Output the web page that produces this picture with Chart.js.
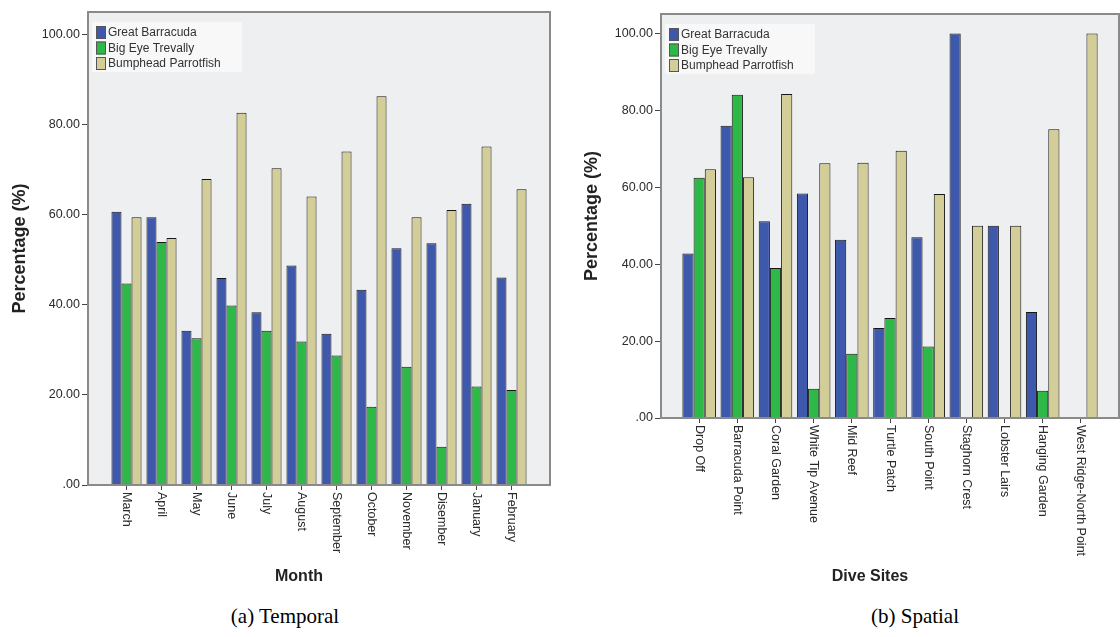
<!DOCTYPE html>
<html lang="en">
  <head>
    <meta charset="UTF-8" />
    <title>Fish sightings by month and dive site</title>
    <script src="https://cdn.jsdelivr.net/npm/chart.js"></script>
    <style>
      * {
        margin: 0;
        padding: 0;
      }
      body {
        background: #fff;
        width: 1120px;
        height: 637px;
        position: relative;
        overflow: hidden;
      }
      canvas {
        position: absolute;
        top: 0;
      }
      #temporal {
        left: 0;
      }
      #spatial {
        left: 560px;
      }
      .caption {
        position: absolute;
        top: 604px;
        width: 220px;
        text-align: center;
        font-family: 'Liberation Serif', 'Times New Roman', serif;
        font-size: 21px;
        color: #000;
      }
    </style>
  </head>
  <body>
    <canvas id="temporal" width="560" height="600"></canvas>
    <canvas id="spatial" width="560" height="600"></canvas>
    <div class="caption" style="left: 175px">(a) Temporal</div>
    <div class="caption" style="left: 805px">(b) Spatial</div>

    <script>
      // ---- data ----
      const species = ['Great Barracuda', 'Big Eye Trevally', 'Bumphead Parrotfish'];
      const speciesColors = ['#3e58ac', '#2eb848', '#d3ce97'];
      const yTicks = [0, 20, 40, 60, 80, 100];

      const months = ['March', 'April', 'May', 'June', 'July', 'August', 'September',
        'October', 'November', 'Disember', 'January', 'February'];
      const monthBarracuda = [60.7, 59.5, 34.3, 46.0, 38.4, 48.8, 33.6, 43.4, 52.6, 53.7, 62.5, 46.1];
      const monthTrevally = [44.8, 54.0, 32.6, 39.9, 34.3, 31.9, 28.8, 17.4, 26.3, 8.5, 21.9, 21.1];
      const monthParrotfish = [59.5, 54.9, 68.0, 82.7, 70.4, 64.1, 74.1, 86.4, 59.5, 61.1, 75.2, 65.7];

      const sites = ['Drop Off', 'Barracuda Point', 'Coral Garden', 'White Tip Avenue', 'Mid Reef',
        'Turtle Patch', 'South Point', 'Staghorn Crest', 'Lobster Lairs', 'Hanging Garden',
        'West Ridge-North Point'];
      const siteBarracuda = [42.8, 76.0, 51.2, 58.4, 46.4, 23.4, 47.0, 100, 50, 27.6, 0];
      const siteTrevally = [62.5, 84.1, 39.0, 7.6, 16.7, 26.0, 18.6, 0, 0, 7.1, 0];
      const siteParrotfish = [64.7, 62.6, 84.3, 66.3, 66.4, 69.5, 58.3, 50, 50, 75.1, 100];

      Chart.defaults.font.family = 'Arial, "Liberation Sans", sans-serif';
      Chart.defaults.color = '#333';

      // SPSS-like frame, rotated labels, axis title and inset legend
      const spssLook = {
        id: 'spssLook',
        beforeDraw(chart) {
          const { ctx, chartArea: a } = chart;
          ctx.save();
          ctx.fillStyle = '#eeeff0';
          ctx.fillRect(a.left, a.top, a.right - a.left, a.bottom - a.top);
          ctx.restore();
        },
        afterDatasetsDraw(chart, args, opts) {
          const { ctx, chartArea: a } = chart;
          const x = chart.scales.x;
          ctx.save();

          // frame
          ctx.strokeStyle = '#8a8a8a';
          ctx.lineWidth = 2;
          ctx.strokeRect(a.left, a.top, a.right - a.left, a.bottom - a.top);

          // category labels, reading top to bottom
          ctx.fillStyle = '#2a2a2a';
          ctx.font = '12.5px Arial, "Liberation Sans", sans-serif';
          ctx.textAlign = 'left';
          ctx.textBaseline = 'middle';
          x.ticks.forEach((t, i) => {
            const px = x.getPixelForTick(i);
            ctx.save();
            ctx.translate(px, a.bottom + 7);
            ctx.rotate(Math.PI / 2);
            ctx.fillText(chart.data.labels[i], 0, 0);
            ctx.restore();
          });

          // x axis title
          ctx.font = 'bold 16px Arial, "Liberation Sans", sans-serif';
          ctx.fillStyle = '#222';
          ctx.textAlign = 'center';
          ctx.fillText(opts.xTitle, (a.left + a.right) / 2 - 20, 577);

          // legend in the top left corner
          ctx.fillStyle = '#f8f8f8';
          ctx.fillRect(a.left + 4, a.top + 10, 150, 50);
          ctx.font = '12px Arial, "Liberation Sans", sans-serif';
          ctx.textAlign = 'left';
          chart.data.datasets.forEach((ds, i) => {
            const cy = a.top + 20 + i * 15.5;
            ctx.fillStyle = ds.backgroundColor;
            ctx.fillRect(a.left + 8, cy - 6, 10, 13);
            ctx.strokeStyle = '#555';
            ctx.lineWidth = 1;
            ctx.strokeRect(a.left + 8.5, cy - 5.5, 9, 12);
            ctx.fillStyle = '#333';
            ctx.fillText(ds.label, a.left + 20, cy + 1);
          });
          ctx.restore();
        }
      };

      function makeChart(id, labels, series, geo) {
        const ctx = document.getElementById(id).getContext('2d');
        return new Chart(ctx, {
          type: 'bar',
          data: {
            labels: labels,
            datasets: species.map((name, i) => ({
              label: name,
              data: series[i],
              backgroundColor: speciesColors[i],
              borderColor: '#161616',
              borderWidth: 1,
              barPercentage: 1,
              categoryPercentage: geo.groupWidth
            }))
          },
          options: {
            responsive: false,
            animation: false,
            layout: { padding: { left: 0, top: geo.top, right: geo.right, bottom: 0 } },
            plugins: {
              legend: { display: false },
              tooltip: { enabled: false },
              spssLook: { xTitle: geo.xTitle }
            },
            scales: {
              x: {
                offset: true,
                border: { display: false },
                grid: { drawOnChartArea: false, offset: false, tickLength: 5, color: '#444' },
                ticks: { display: false },
                afterBuildTicks(scale) {
                  // SPSS keeps some extra room on both sides of the bars
                  scale._startValue -= geo.extra;
                  scale._valueRange += geo.extra * 2;
                },
                afterFit(scale) {
                  scale.height = geo.xHeight;
                }
              },
              y: {
                min: 0,
                max: 105.1,
                border: { display: false },
                grid: { drawOnChartArea: false, tickLength: 6, color: '#444' },
                ticks: {
                  stepSize: yTicks[1] - yTicks[0],
                  includeBounds: false,
                  padding: 2,
                  color: '#2a2a2a',
                  font: { size: 12.5 },
                  callback: (v) => (yTicks.includes(v) ? (v === 0 ? '.00' : v.toFixed(2)) : '')
                },
                title: {
                  display: true,
                  text: 'Percentage (%)',
                  color: '#222',
                  font: { size: 18, weight: 'bold' },
                  padding: { top: geo.titlePad, bottom: 0 }
                },
                afterFit(scale) {
                  scale.width = geo.yWidth;
                }
              }
            }
          },
          plugins: [spssLook]
        });
      }

      makeChart('temporal', months, [monthBarracuda, monthTrevally, monthParrotfish], {
        top: 12, right: 10, yWidth: 88, xHeight: 115, extra: 0.6, titlePad: 9,
        groupWidth: 0.86, xTitle: 'Month'
      });

      makeChart('spatial', sites, [siteBarracuda, siteTrevally, siteParrotfish], {
        top: 14, right: 1, yWidth: 101, xHeight: 182, extra: 0.5, titlePad: 21,
        groupWidth: 0.88, xTitle: 'Dive Sites'
      });
    </script>
  </body>
</html>
